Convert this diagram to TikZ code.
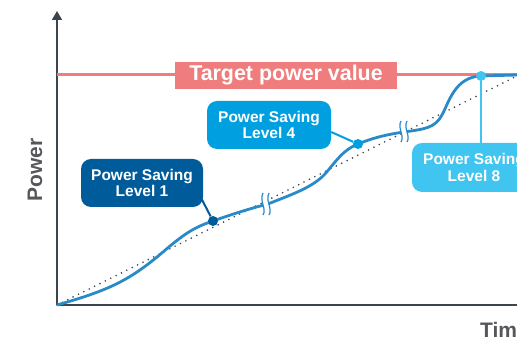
\documentclass[tikz,border=0pt]{standalone}
\usepackage{fontspec}
\setmainfont{Liberation Sans}
\usetikzlibrary{arrows.meta}
\definecolor{axisgray}{RGB}{60,68,80}
\definecolor{labelgray}{RGB}{85,87,90}
\definecolor{targetred}{RGB}{240,125,125}
\definecolor{curveblue}{RGB}{40,138,200}
\definecolor{levelone}{RGB}{0,91,154}
\definecolor{levelfour}{RGB}{0,160,224}
\definecolor{leveleight}{RGB}{64,196,240}
\tikzset{
  levelbox/.style={rounded corners=10pt, text=white, font=\bfseries\fontsize{15.5}{16.5}\selectfont,
    align=center, minimum width=124pt, minimum height=48pt, inner sep=0pt},
  leveldot/.style={circle, inner sep=0pt, minimum size=10pt},
  breakmark/.style={draw=curveblue, line width=1.2pt},
}
\begin{document}
\begin{tikzpicture}[x=1pt,y=1pt]
  \useasboundingbox (0,0) rectangle (517,340);

  % Drawing axes
  \draw [axisgray, line width=1.5pt, -{Triangle[length=9pt,width=10pt]}] (57,35) -- (57,329);%
  \draw [axisgray, line width=1.5pt] (57,35) -- (530,35);%

  % Marking axis labels
  \node [rotate=90, text=labelgray, font=\bfseries\fontsize{21}{24}\selectfont] (ylabel) at (35,170) {Power};%
  \node [anchor=base west, inner sep=0pt, text=labelgray, font=\bfseries\fontsize{21}{24}\selectfont] (xlabel) at (480,2) {Time};%

  % Drawing target line
  \draw [targetred, line width=3pt] (57,265) -- (517,265);%
  \node [fill=targetred, text=white, font=\bfseries\fontsize{21.4}{24}\selectfont,
    minimum width=222pt, minimum height=27pt, inner sep=0pt] (target) at (286,264.5) {Target power value};%

  % Drawing linear reference
  \draw [axisgray, line width=1.8pt, line cap=round, dash pattern=on 0pt off 6pt] (57,35) -- (517,264);%

  % Drawing power curve
  \draw [curveblue, line width=2.8pt] (57,35) .. controls (110,50) and (130,60) .. (163,88)
    .. controls (185,107) and (195,113) .. (213,119)
    .. controls (230,125) and (248,131) .. (268,136)
    .. controls (290,145) and (312,152) .. (325,166)
    .. controls (337,180) and (343,190) .. (358,196)
    .. controls (375,203) and (390,206) .. (404,208)
    .. controls (425,211) and (435,212) .. (442,225)
    .. controls (449,238) and (455,263) .. (481,264) -- (517,265);%

  % Drawing break marks
  \fill [white] (263,125) .. controls (267,131) and (259,139) .. (263,147) -- (269,147) .. controls (265,139) and (273,131) .. (269,125) -- cycle;%
  \draw [breakmark] (263,125) .. controls (267,131) and (259,139) .. (263,147);%
  \draw [breakmark] (269,125) .. controls (273,131) and (265,139) .. (269,147);%
  \fill [white] (401,198) .. controls (405,204) and (397,212) .. (401,219) -- (407,219) .. controls (403,212) and (411,204) .. (407,198) -- cycle;%
  \draw [breakmark] (401,198) .. controls (405,204) and (397,212) .. (401,219);%
  \draw [breakmark] (407,198) .. controls (411,204) and (403,212) .. (407,219);%

  % Marking levels
  \node [leveldot, fill=levelone] (d1) at (213,119) {};%
  \node [leveldot, fill=levelfour] (d4) at (358,196) {};%
  \node [leveldot, fill=leveleight] (d8) at (481,264) {};%
  \node [levelbox, fill=levelone, minimum width=122pt] (l1) at (142,157) {Power Saving\\Level 1};%
  \node [levelbox, fill=levelfour] (l4) at (269,215) {Power Saving\\Level 4};%
  \node [levelbox, fill=leveleight, minimum height=49pt] (l8) at (474,172.5) {Power Saving\\Level 8};%

  % Drawing connectors
  \draw [levelone, line width=2pt] (d1) -- ([xshift=-2pt,yshift=9pt]l1.south east);%
  \draw [levelfour, line width=2pt] (d4) -- ([yshift=-7pt]l4.east);%
  \draw [leveleight, line width=2pt] (d8) -- (d8 |- l8.north);%
\end{tikzpicture}
\end{document}
